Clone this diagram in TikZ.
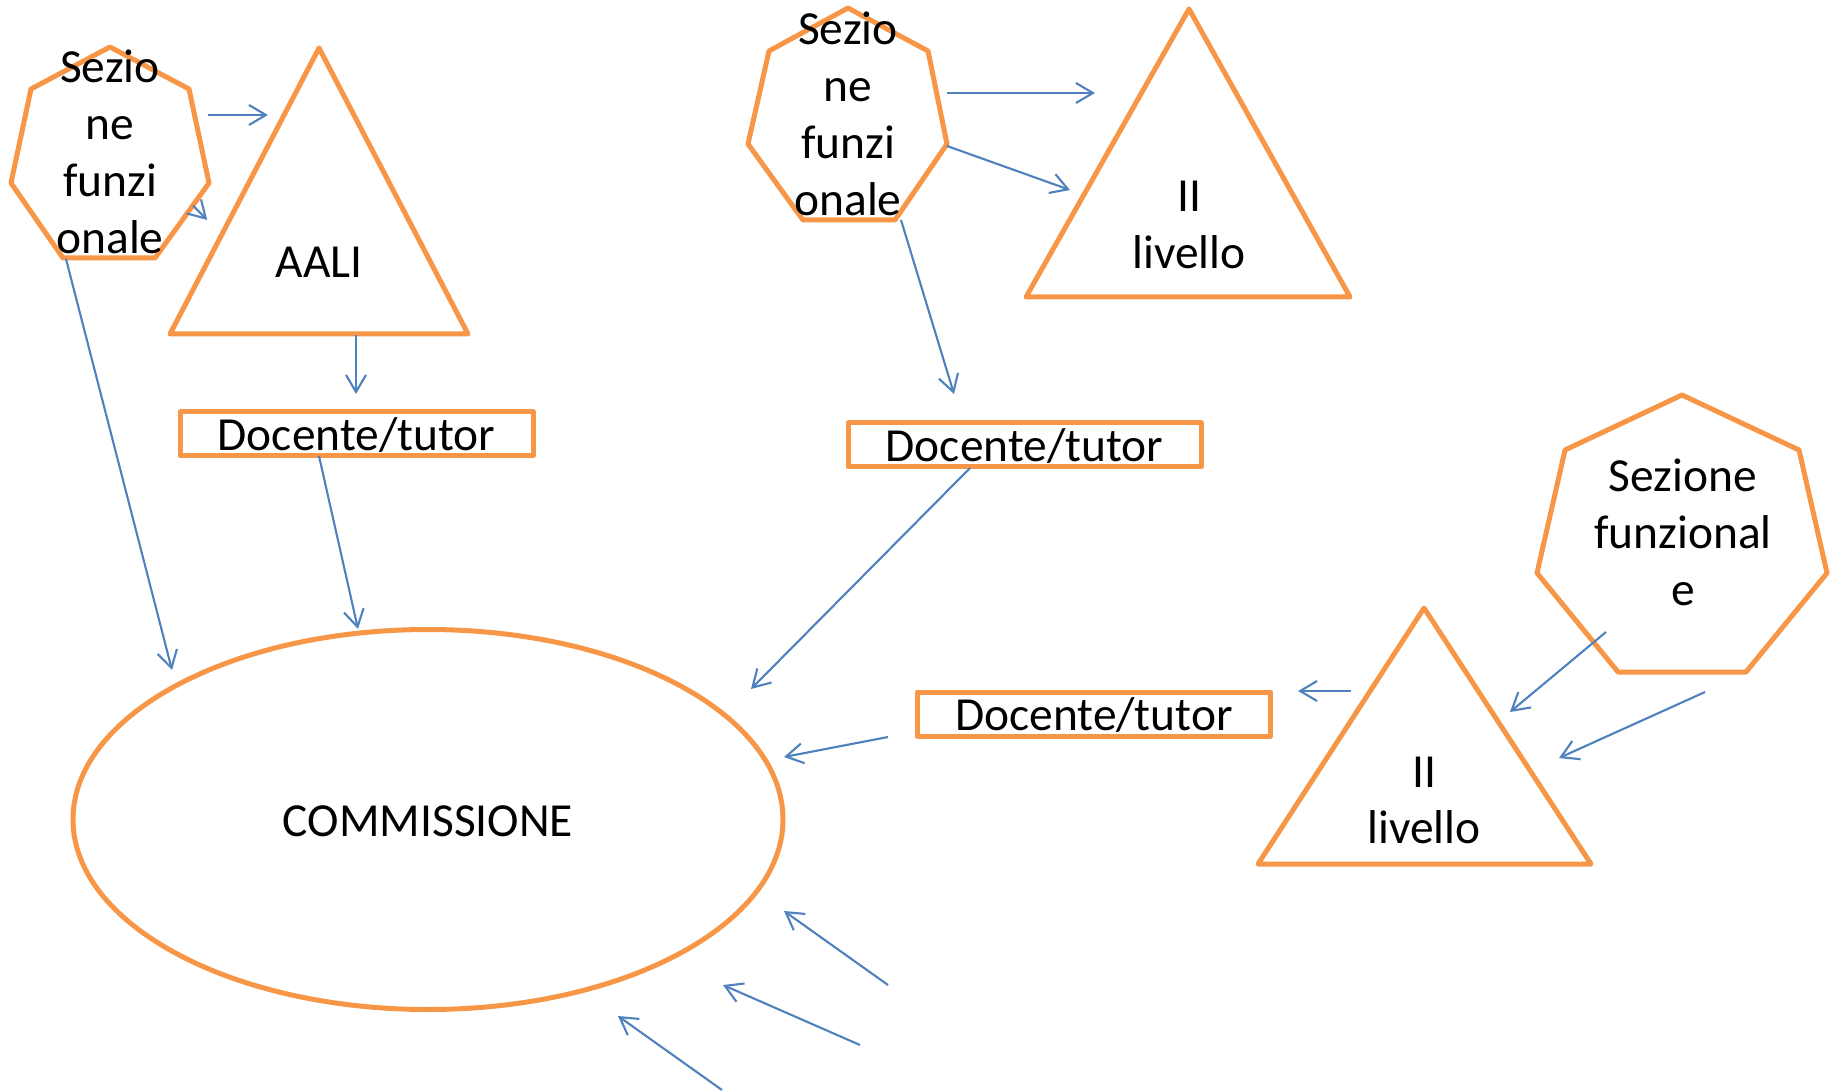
\documentclass[tikz,border=0pt]{standalone}
\usepackage{fontspec}
\setmainfont{Carlito}
\usetikzlibrary{arrows.meta,shapes.geometric}
\definecolor{shapeorange}{HTML}{F79646}
\definecolor{arrowblue}{HTML}{4F81BD}
\newcommand{\mlines}[1]{\vtop{\baselineskip=16.2pt\lineskiplimit=-100pt\halign{\hfil##\hfil\cr#1\crcr}}}
\begin{document}
\begin{tikzpicture}[x=0.1mm,y=-0.1mm,
  shapeline/.style={draw=shapeorange,line width=0.5mm,line join=round},
  txt/.style={anchor=base,inner sep=0pt,font=\fontsize{13.5}{16.2}\selectfont},
  boxnode/.style={shapeline,rectangle,minimum width=35.3mm,minimum height=4.4mm,inner sep=0pt,
    text height=3.3mm,text depth=0pt,font=\fontsize{13.5}{16.2}\selectfont},
  conn/.style={draw=arrowblue,line width=0.6pt,-{Straight Barb[length=1.7mm,width=2mm]}}]
\useasboundingbox (0,0) rectangle (1835,1091);

% shapes
\draw[shapeline] (110,47) -- (189,89) -- (209,183) -- (155,258) -- (63,258) -- (11,183) -- (31,89) -- cycle;
\node[txt] (h1) at (110,83) {\mlines{Sezio\cr ne\cr funzi\cr onale}};

\draw[shapeline] (319,48) -- (468,334) -- (170,334) -- cycle;
\node[txt] (t1) at (319,278) {AALI};

\draw[shapeline] (848,8) -- (928,51) -- (947,144) -- (895,220) -- (803,220) -- (748,144) -- (769,51) -- cycle;
\node[txt] (h2) at (848,45) {\mlines{Sezio\cr ne\cr funzi\cr onale}};

\draw[shapeline] (1189,9) -- (1350,297) -- (1026,297) -- cycle;
\node[txt] (t2) at (1189,212) {\mlines{II\cr livello}};

\draw[shapeline] (1682,395) -- (1799,450) -- (1827,573) -- (1746,672) -- (1618,672) -- (1537,573) -- (1565,450) -- cycle;
\node[txt] (h3) at (1683,492) {\mlines{Sezione\cr funzional\cr e}};

\draw[shapeline] (1424,608) -- (1591,864) -- (1258,864) -- cycle;
\node[txt] (t3) at (1424,787) {\mlines{II\cr livello}};

\node[boxnode] (d1) at (356.5,434) {Docente/tutor};
\node[boxnode] (d2) at (1024.5,445) {Docente/tutor};
\node[boxnode] (d3) at (1094,714) {Docente/tutor};

\node[shapeline,ellipse,minimum width=71mm,minimum height=38mm,inner sep=0pt,
  text height=3.3mm,text depth=0pt,font=\fontsize{13.5}{16.2}\selectfont] (comm) at (428,819.5) {COMMISSIONE};

% connector end points
\coordinate (a1s) at (208,115);   \coordinate (a1e) at (268,115);
\coordinate (a2s) at (193,205.5); \coordinate (a2e) at (207.3,220);
\coordinate (a3s) at (66,259);    \coordinate (a3e) at (172,670);
\coordinate (a4s) at (356,335);   \coordinate (a4e) at (356,394);
\coordinate (a5s) at (319,456);   \coordinate (a5e) at (358,629);
\coordinate (a6s) at (947,93);    \coordinate (a6e) at (1095,93);
\coordinate (a7s) at (947,146);   \coordinate (a7e) at (1070,190);
\coordinate (a8s) at (901,220);   \coordinate (a8e) at (954,394);
\coordinate (a9s) at (970,468);   \coordinate (a9e) at (751,689);
\coordinate (a10s) at (888,737);  \coordinate (a10e) at (784,757);
\coordinate (a11s) at (1351,691); \coordinate (a11e) at (1298,691);
\coordinate (a12s) at (1606,632); \coordinate (a12e) at (1510,712);
\coordinate (a13s) at (1705,692); \coordinate (a13e) at (1559,758);
\coordinate (a14s) at (888,985);  \coordinate (a14e) at (784,911);
\coordinate (a15s) at (860,1045); \coordinate (a15e) at (723,985);
\coordinate (a16s) at (722,1090); \coordinate (a16e) at (618,1016);

\foreach \i in {1,...,16} {\draw[conn] (a\i s) -- (a\i e);}
\end{tikzpicture}
\end{document}
